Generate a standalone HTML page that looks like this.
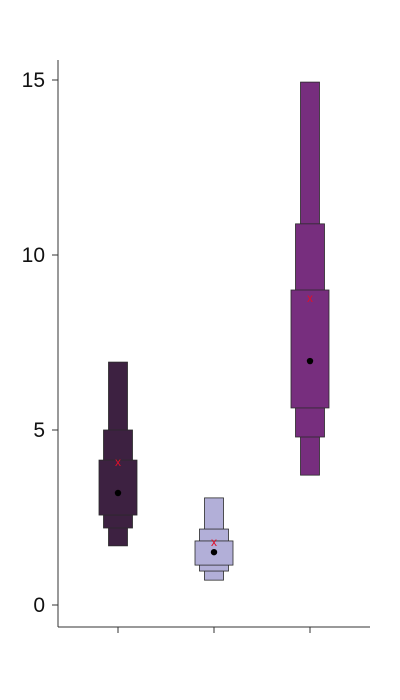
<!DOCTYPE html>
<html><head><meta charset="utf-8"><style>
body{margin:0;background:#fff}
svg{display:block;font-family:"Liberation Sans",sans-serif}
</style></head><body>
<svg id="chart" width="400" height="700">
<g id="axes"></g><g id="marks"></g>
</svg>
<script>
const categories=["A","B","C"];
const colors=["#3d2141","#b2afd8","#772e7e"];
// letter-value levels per group: [lower, upper]
const lvBox=[[2.57,4.14],[1.14,1.83],[5.63,9.0]];
const lv2=[[2.2,5.0],[0.97,2.17],[4.8,10.89]];
const lv3=[[1.69,6.94],[0.71,3.06],[3.71,14.94]];
const medians=[3.2,1.51,6.97];
const means=[4.09,1.8,8.77];
const yTicks=[0,5,10,15];
const NS="http://www.w3.org/2000/svg";
const y=v=>605-v*35;
const x=i=>118+i*96;
const ax=document.getElementById('axes'),mk=document.getElementById('marks');
function el(t,a,p){const e=document.createElementNS(NS,t);for(const k in a)e.setAttribute(k,a[k]);p.appendChild(e);return e;}
let e=el('line',{x1:58,y1:60,x2:58,y2:627,stroke:'#333','stroke-width':1},ax);


e=el('line',{x1:58,y1:627,x2:370,y2:627,stroke:'#333','stroke-width':1},ax);


yTicks.forEach(t=>{
  let l=el('line',{x1:52,x2:58,y1:y(t),y2:y(t),stroke:'#333'},ax);
  
  
  let tx=el('text',{x:45,y:y(t)+7,'text-anchor':'end','font-size':21,fill:'#111'},ax);
  tx.textContent=t;
  
  
});
categories.forEach((c,i)=>{
  let l=el('line',{x1:x(i),x2:x(i),y1:627,y2:633,stroke:'#333'},ax);
  
  
  const levels=[[lv3[i],19],[lv2[i],29],[lvBox[i],38]];
  levels.forEach(([r,w])=>{
    let b=el('rect',{x:x(i)-w/2,y:y(r[1]),width:w,height:y(r[0])-y(r[1]),fill:colors[i],stroke:'#2a2a2a','stroke-width':0.8},mk);
    
    
  });
  let m=el('circle',{cx:x(i),cy:y(medians[i]),r:3.2,fill:'#000'},mk);
  
  
  let mt=el('text',{x:x(i),y:y(means[i])+4,'text-anchor':'middle','font-size':12,fill:'#e0102a'},mk);
  mt.textContent='x';
  
  
});
</script>
</body></html>
